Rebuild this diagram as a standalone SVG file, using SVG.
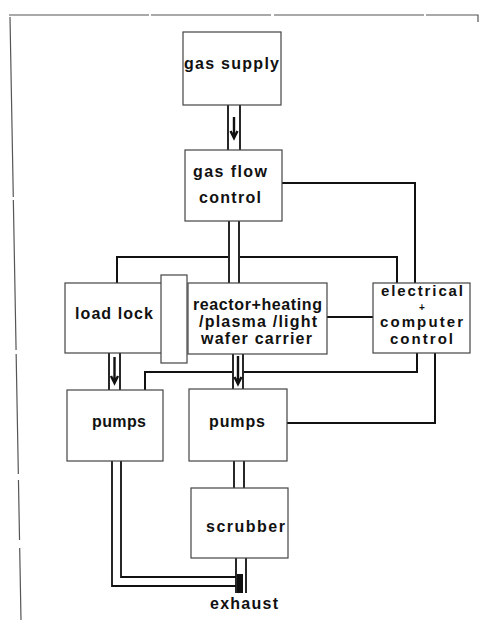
<svg xmlns="http://www.w3.org/2000/svg" width="481" height="623" viewBox="0 0 481 623">
<style>
.box{fill:#fff;stroke:#444;stroke-width:1.2}
.t{font-family:"Liberation Sans",Arial,sans-serif;font-weight:bold;font-size:16px;fill:#111}
.s{font-size:15px}
.plus{font-size:10px}
.c{fill:none;stroke:#111;stroke-width:2}
.p{fill:none;stroke:#111;stroke-width:1.8}
.a{fill:none;stroke:#111;stroke-width:2.4}
.f{fill:none;stroke:#555;stroke-width:1.2}
</style>
<rect width="481" height="623" fill="#fff"/>
<g id="frame">
<path class="f" d="M9 15 H478 V22" stroke-dasharray="140 2 120 3 150 2 200"/>
<path class="f" d="M10 17 L21 620" stroke-dasharray="180 3 150 4 120 6 60 8 200"/>
</g>
<g id="connectors">
<path class="p" d="M228 105 V150 M240 105 V150"/>
<path class="a" d="M234 117 V138 M230.5 131 L234 138 L237.5 131"/>
<path class="c" d="M282 183 H415 V283"/>
<path class="p" d="M229 221 V283 M239 221 V283"/>
<path class="c" d="M117 283 V257 H228 M240 257 H397 V283"/>
<path class="c" d="M327 317 H373"/>
<path class="p" d="M109 353 V390 M120 353 V390"/>
<path class="a" d="M114.5 357 V383 M111 376 L114.5 383 L118 376"/>
<path class="p" d="M233 354 V389 M243 354 V389"/>
<path class="a" d="M238 356 V384 M234.5 377 L238 384 L241.5 377"/>
<path class="c" d="M417 353 V372 H244 M232 372 H145 V390"/>
<path class="c" d="M435 353 V423 H287"/>
<path class="p" d="M234 461 V488 M244 461 V488"/>
<path class="p" d="M121 461 V577 H236 M112 461 V586 H236"/>
<path class="p" d="M236 558 V593 M246 558 V593"/>
<path d="M237 574 H243 V593 H237 Z" fill="#111"/>
</g>
<g id="gas-supply">
<rect class="box" x="183" y="32" width="98" height="73"/>
<text class="t" x="184" y="69" textLength="95" lengthAdjust="spacing">gas supply</text>
</g>
<g id="gas-flow-control">
<rect class="box" x="185" y="150" width="97" height="71"/>
<text class="t" x="193" y="177" textLength="74" lengthAdjust="spacing">gas flow</text>
<text class="t" x="199" y="203" textLength="62" lengthAdjust="spacing">control</text>
</g>
<g id="load-lock">
<rect class="box" x="65" y="283" width="97" height="70"/>
<text class="t" x="75" y="319" textLength="78" lengthAdjust="spacing">load lock</text>
</g>
<g id="gate">
<rect class="box" x="161" y="275" width="26" height="88"/>
</g>
<g id="reactor">
<rect class="box" x="188" y="283" width="139" height="71"/>
<text class="t" x="193" y="310" textLength="129" lengthAdjust="spacing">reactor+heating</text>
<text class="t" x="199" y="327" textLength="118" lengthAdjust="spacing">/plasma /light</text>
<text class="t" x="201" y="344" textLength="111" lengthAdjust="spacing">wafer carrier</text>
</g>
<g id="electrical-control">
<rect class="box" x="373" y="283" width="97" height="70"/>
<text class="t s" x="381" y="296" textLength="82" lengthAdjust="spacing">electrical</text>
<text class="t plus" x="422" y="311" text-anchor="middle">+</text>
<text class="t s" x="380" y="327" textLength="83" lengthAdjust="spacing">computer</text>
<text class="t s" x="390" y="344" textLength="63" lengthAdjust="spacing">control</text>
</g>
<g id="pumps-left">
<rect class="box" x="67" y="390" width="96" height="71"/>
<text class="t" x="92" y="427" textLength="54" lengthAdjust="spacing">pumps</text>
</g>
<g id="pumps-right">
<rect class="box" x="189" y="389" width="98" height="72"/>
<text class="t" x="209" y="427" textLength="56" lengthAdjust="spacing">pumps</text>
</g>
<g id="scrubber">
<rect class="box" x="191" y="488" width="97" height="70"/>
<text class="t" x="206" y="532" textLength="79" lengthAdjust="spacing">scrubber</text>
</g>
<g id="exhaust">
<text class="t" x="210" y="609" textLength="68" lengthAdjust="spacing">exhaust</text>
</g>
</svg>
